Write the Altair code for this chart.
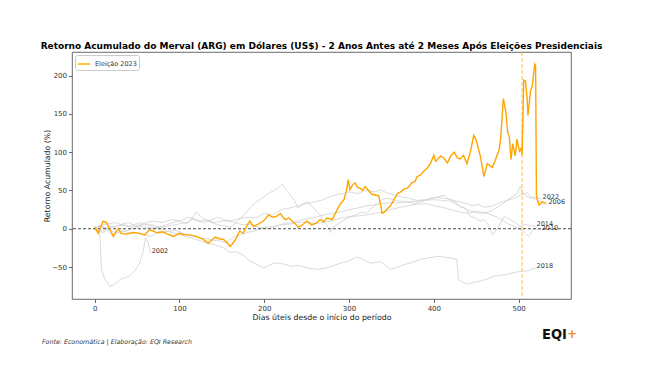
import altair as alt
import pandas as pd

# ---------------- data ----------------
d2023 = [0,4,7,10,14,18,22,25,28,31,37,45,53,59,65,73,80,86,93,100,106,112,120,128,134,138,142,147,152,156,160,165,168,171,175,179,183,187,193,199,205,210,214,219,222,225,229,233,237,240,244,250,256,262,266,270,274,280,283,286,290,294,297,299,301,304,307,310,313,316,319,323,327,331,335,337,339,342,345,349,353,357,361,365,369,374,378,380,384,388,392,396,400,402,404,408,412,416,420,424,428,431,435,439,443,447,449,451,455,459,463,469,472,477,479,482,485,487,489,491,493,496,498,501,503,504,506,508,510,511,514,516,519,520,521,524,528,532]
v2023 = [3,-6,2,10,8,-1,-10,-4,0,-6,-7,-5,-6,-8,-1,-5,-4,-7,-10,-6,-8,-8,-10,-14,-19,-15,-11,-13,-14,-18,-23,-16,-10,-3,-6,3,10,3,6,10,18,15,16,20,15,12,14,10,6,2,4,10,5,8,12,9,14,12,18,25,33,38,50,64,51,57,60,54,53,50,55,50,45,44,43,32,20,22,26,30,38,46,48,52,53,60,62,68,70,75,79,85,96,88,90,95,92,86,95,100,92,91,96,85,100,122,118,111,94,68,85,80,88,103,120,170,152,126,120,90,111,95,117,101,105,96,194,193,170,148,180,186,215,213,42,31,35,33]

d2002 = [0,3,5,6,8,12,18,24,30,36,41,47,53,57,60,63,66]
v2002 = [0,-4,2,-5,-53,-66,-75,-72,-66,-64,-62,-55,-45,-30,-12,-18,-32]

d2006 = [0,6,12,18,25,32,40,48,55,62,70,80,90,100,110,118,125,132,140,150,160,170,180,190,200,210,220,230,240,250,260,270,278,288,300,310,320,330,337,344,350,360,370,380,390,400,410,420,430,438,445,452,460,470,478,487,495,502,510,515,520,527,534]
v2006 = [0,5,1,4,2,6,8,4,5,9,10,8,12,10,15,13,10,12,8,10,10,13,15,14,20,18,25,27,30,33,35,38,42,45,48,46,50,48,51,47,45,42,40,37,38,41,40,38,35,33,30,32,28,30,34,37,40,44,47,42,38,35,32]

d2010 = [0,5,10,18,25,32,40,48,55,62,70,78,85,92,100,108,115,122,130,138,145,152,160,168,175,182,190,198,205,212,220,230,240,250,260,270,278,287,295,305,320,330,340,350,360,370,380,390,400,410,420,430,440,450,460,468,475,482,490,495,500,505,512,518,526]
v2010 = [0,3,2,-2,-5,-3,-2,1,3,2,0,3,5,8,10,7,12,10,8,12,15,12,10,7,5,6,3,1,0,2,5,6,8,9,7,8,10,13,15,16,18,20,22,25,28,30,32,33,30,28,25,22,20,23,21,18,15,10,5,3,0,-3,-10,0,-1]

d2014 = [0,5,10,15,20,28,35,42,50,58,65,72,80,88,95,102,110,115,120,125,130,138,145,152,160,165,170,178,185,192,200,206,212,217,222,226,230,235,240,245,250,256,262,266,270,274,278,281,285,292,300,308,315,320,325,332,338,345,352,358,365,372,378,384,392,400,406,412,416,420,426,431,437,443,449,455,459,463,466,469,472,475,479,483,487,490,496,502,506,510,515,520]
v2014 = [0,-2,-3,1,2,4,5,2,3,6,6,3,2,4,5,7,8,14,22,16,12,8,5,4,2,6,12,20,30,36,42,47,50,54,58,50,45,38,27,32,35,30,22,18,10,5,-5,2,5,10,15,18,22,20,25,32,38,40,38,36,36,34,33,35,38,40,42,44,40,38,34,29,27,16,14,10,12,7,2,-8,-4,0,8,16,14,12,8,3,6,5,4,3]

d2018 = [0,5,10,18,25,32,40,48,55,62,70,78,85,92,100,108,115,122,130,138,145,152,160,166,171,177,183,190,199,205,212,219,226,232,239,247,255,263,274,282,290,300,309,317,325,331,337,343,349,357,365,374,384,394,404,412,420,427,429,434,440,447,455,462,470,477,485,492,500,505,510,515,520]
v2018 = [0,3,5,7,8,5,3,6,8,5,2,0,-3,-5,-8,-10,-12,-15,-18,-20,-22,-25,-31,-30,-32,-36,-42,-46,-51,-48,-45,-45,-47,-49,-48,-50,-52,-53,-51,-48,-45,-42,-37,-40,-45,-44,-43,-48,-53,-50,-47,-44,-40,-38,-36,-37,-38,-40,-66,-70,-72,-70,-68,-66,-62,-61,-60,-58,-56,-55,-55,-53,-51]

d2022 = [0,5,10,15,20,28,35,42,50,58,65,72,80,88,95,102,110,118,125,132,140,148,155,160,165,172,180,188,195,202,210,218,225,232,240,250,260,270,280,290,300,310,320,330,340,350,360,370,380,390,400,410,420,430,439,447,455,463,470,478,484,490,494,498,502,506,510,515,520,527]
v2022 = [0,-3,-5,-2,-8,-5,-3,-6,-5,-8,-10,-7,-5,-3,-2,-5,-8,-10,-12,-13,-15,-16,-18,-14,-10,-8,-5,-3,0,2,3,5,7,8,10,13,15,18,20,22,25,27,30,31,33,34,34,35,36,37,38,37,36,30,25,22,20,21,25,30,35,40,43,46,55,45,42,40,41,39]

gray_names = ["2002", "2006", "2010", "2014", "2018", "2022"]
gray_days = [d2002, d2006, d2010, d2014, d2018, d2022]
gray_vals = [v2002, v2006, v2010, v2014, v2018, v2022]

election_day = 504
x_ticks = [0, 100, 200, 300, 400, 500]
y_ticks = [-50, 0, 50, 100, 150, 200]

# ---------------- frames ----------------
rows = []
for n, ds, vs in zip(gray_names, gray_days, gray_vals):
    for d, v in zip(ds, vs):
        rows.append({"serie": n, "dia": d, "ret": v})
gray_df = pd.DataFrame(rows)
lab_df = pd.DataFrame({"serie": gray_names,
                       "dia": [ds[-1] for ds in gray_days],
                       "ret": [vs[-1] for vs in gray_vals]})
org_df = pd.DataFrame({"serie": "Eleição 2023", "dia": d2023, "ret": v2023})

xs = alt.Scale(domain=[-26.75, 561.75], nice=False, zero=False)
ys = alt.Scale(domain=[-91.7, 230.7], nice=False, zero=False)

X = alt.X("dia:Q", scale=xs,
          axis=alt.Axis(values=x_ticks, title="Dias úteis desde o início do período",
                        grid=False, format="d"))
Y = alt.Y("ret:Q", scale=ys,
          axis=alt.Axis(values=y_ticks, title="Retorno Acumulado (%)", grid=False, format="d"))

gray = alt.Chart(gray_df).mark_line(color="#cccccc", strokeWidth=0.8, opacity=0.9).encode(
    x=X, y=Y, detail="serie:N", order="dia:Q")

labels = alt.Chart(lab_df).mark_text(align="left", baseline="alphabetic", dx=1,
                                     fontSize=6.5, color="#333333", font="DejaVu Sans").encode(
    x="dia:Q", y="ret:Q", text="serie:N")

zero = alt.Chart(pd.DataFrame({"ret": [0]})).mark_rule(
    color="black", strokeWidth=0.7, strokeDash=[3, 2]).encode(y="ret:Q")

vline = alt.Chart(pd.DataFrame({"dia": [election_day]})).mark_rule(
    color="#FFA500", strokeWidth=0.9, strokeDash=[4, 2], opacity=0.8).encode(x="dia:Q")

orange = alt.Chart(org_df).mark_line(strokeWidth=1.4).encode(
    x="dia:Q", y="ret:Q", order="dia:Q",
    color=alt.Color("serie:N",
                    scale=alt.Scale(domain=["Eleição 2023"], range=["#FFA500"]),
                    legend=alt.Legend(title=None, orient="top-left", offset=3,
                                      symbolType="stroke", symbolSize=150, symbolStrokeWidth=1.4,
                                      labelFontSize=6.5, labelFont="DejaVu Sans",
                                      labelColor="#333", padding=2, rowPadding=0,
                                      strokeColor="#cccccc", fillColor="white",
                                      cornerRadius=2)))

foot = alt.Chart(pd.DataFrame({"t": ["Fonte: Economática | Elaboração: EQI Research"]})).mark_text(
    align="left", baseline="middle", fontSize=6.3, fontStyle="italic",
    font="DejaVu Sans", color="#333").encode(
    x=alt.value(-30), y=alt.value(290), text="t:N")

logo1 = alt.Chart(pd.DataFrame({"t": ["EQI"]})).mark_text(
    align="left", baseline="middle", fontSize=14.5, fontWeight="bold",
    font="DejaVu Sans Condensed", color="#111").encode(
    x=alt.value(470), y=alt.value(283), text="t:N")
logo2 = alt.Chart(pd.DataFrame({"t": ["+"]})).mark_text(
    align="left", baseline="middle", fontSize=12, fontWeight="bold",
    font="DejaVu Sans", color="#F28C28").encode(
    x=alt.value(495), y=alt.value(282), text="t:N")

chart = alt.layer(gray, labels, zero, vline, orange, foot, logo1, logo2).properties(
    width=499, height=247,
    title=alt.TitleParams(
        "Retorno Acumulado do Merval (ARG) em Dólares (US$) - 2 Anos Antes até 2 Meses Após Eleições Presidenciais",
        anchor="middle", fontSize=9.0, fontWeight="bold", font="DejaVu Sans",
        color="black", baseline="bottom", offset=3, dy=11),
    autosize=alt.AutoSizeParams(type="none"),
    padding={"left": 64, "top": 44, "right": 60, "bottom": 70},
).configure_view(stroke="#444", strokeWidth=0.8
).configure_axis(
    domain=False, tickColor="#444", tickSize=3.5, tickWidth=0.8,
    labelFontSize=7, labelFont="DejaVu Sans", labelColor="#333", labelPadding=2,
    titleFontSize=7.8, titleFont="DejaVu Sans", titleFontWeight="normal", titleColor="#222"
).configure_axisX(titlePadding=2
).configure_axisY(titlePadding=0)

chart.save("out.html", embed_options={"renderer": "svg", "actions": False})
